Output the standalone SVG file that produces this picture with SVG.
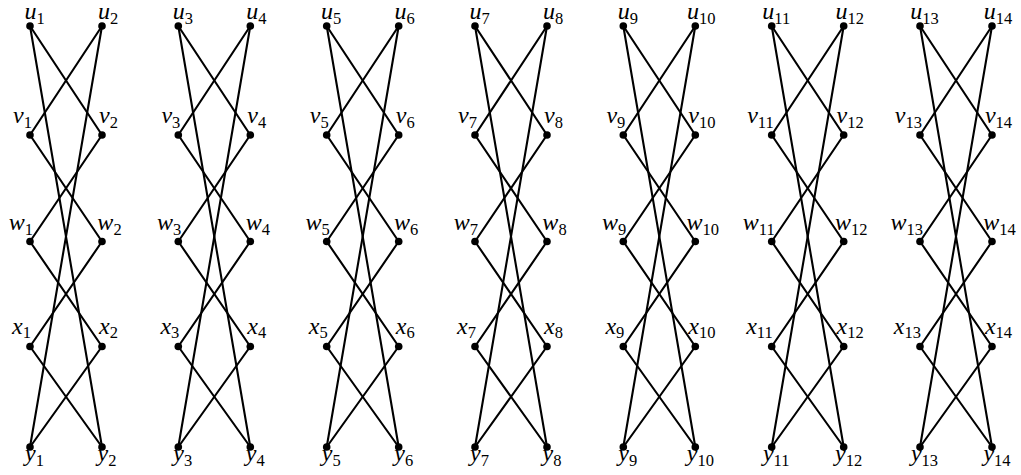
<svg xmlns="http://www.w3.org/2000/svg" width="1021" height="475" viewBox="0 0 1021 475">
<style>
.e{stroke:#000;stroke-width:2.1;fill:none;stroke-linecap:round}
.d{fill:#000}
.t{font-family:"Liberation Serif","DejaVu Serif",serif;font-size:24px;font-style:italic;fill:#000}
.s{font-size:16.5px;font-style:normal}
.m{text-anchor:middle}
.r{text-anchor:end}
</style>
<rect width="1021" height="475" fill="#fff"/>
<g id="connectors">
<line class="e" x1="30" y1="26" x2="102" y2="447"/><line class="e" x1="102" y1="26" x2="30" y2="447"/><line class="e" x1="30" y1="26" x2="102" y2="135"/><line class="e" x1="102" y1="26" x2="30" y2="135"/><line class="e" x1="30" y1="135" x2="102" y2="241.5"/><line class="e" x1="102" y1="135" x2="30" y2="241.5"/><line class="e" x1="30" y1="241.5" x2="102" y2="346.5"/><line class="e" x1="102" y1="241.5" x2="30" y2="346.5"/><line class="e" x1="30" y1="346.5" x2="102" y2="447"/><line class="e" x1="102" y1="346.5" x2="30" y2="447"/>
<line class="e" x1="178.3" y1="26" x2="250.3" y2="447"/><line class="e" x1="250.3" y1="26" x2="178.3" y2="447"/><line class="e" x1="178.3" y1="26" x2="250.3" y2="135"/><line class="e" x1="250.3" y1="26" x2="178.3" y2="135"/><line class="e" x1="178.3" y1="135" x2="250.3" y2="241.5"/><line class="e" x1="250.3" y1="135" x2="178.3" y2="241.5"/><line class="e" x1="178.3" y1="241.5" x2="250.3" y2="346.5"/><line class="e" x1="250.3" y1="241.5" x2="178.3" y2="346.5"/><line class="e" x1="178.3" y1="346.5" x2="250.3" y2="447"/><line class="e" x1="250.3" y1="346.5" x2="178.3" y2="447"/>
<line class="e" x1="326.7" y1="26" x2="398.7" y2="447"/><line class="e" x1="398.7" y1="26" x2="326.7" y2="447"/><line class="e" x1="326.7" y1="26" x2="398.7" y2="135"/><line class="e" x1="398.7" y1="26" x2="326.7" y2="135"/><line class="e" x1="326.7" y1="135" x2="398.7" y2="241.5"/><line class="e" x1="398.7" y1="135" x2="326.7" y2="241.5"/><line class="e" x1="326.7" y1="241.5" x2="398.7" y2="346.5"/><line class="e" x1="398.7" y1="241.5" x2="326.7" y2="346.5"/><line class="e" x1="326.7" y1="346.5" x2="398.7" y2="447"/><line class="e" x1="398.7" y1="346.5" x2="326.7" y2="447"/>
<line class="e" x1="475" y1="26" x2="547" y2="447"/><line class="e" x1="547" y1="26" x2="475" y2="447"/><line class="e" x1="475" y1="26" x2="547" y2="135"/><line class="e" x1="547" y1="26" x2="475" y2="135"/><line class="e" x1="475" y1="135" x2="547" y2="241.5"/><line class="e" x1="547" y1="135" x2="475" y2="241.5"/><line class="e" x1="475" y1="241.5" x2="547" y2="346.5"/><line class="e" x1="547" y1="241.5" x2="475" y2="346.5"/><line class="e" x1="475" y1="346.5" x2="547" y2="447"/><line class="e" x1="547" y1="346.5" x2="475" y2="447"/>
<line class="e" x1="623.3" y1="26" x2="695.3" y2="447"/><line class="e" x1="695.3" y1="26" x2="623.3" y2="447"/><line class="e" x1="623.3" y1="26" x2="695.3" y2="135"/><line class="e" x1="695.3" y1="26" x2="623.3" y2="135"/><line class="e" x1="623.3" y1="135" x2="695.3" y2="241.5"/><line class="e" x1="695.3" y1="135" x2="623.3" y2="241.5"/><line class="e" x1="623.3" y1="241.5" x2="695.3" y2="346.5"/><line class="e" x1="695.3" y1="241.5" x2="623.3" y2="346.5"/><line class="e" x1="623.3" y1="346.5" x2="695.3" y2="447"/><line class="e" x1="695.3" y1="346.5" x2="623.3" y2="447"/>
<line class="e" x1="771.7" y1="26" x2="843.7" y2="447"/><line class="e" x1="843.7" y1="26" x2="771.7" y2="447"/><line class="e" x1="771.7" y1="26" x2="843.7" y2="135"/><line class="e" x1="843.7" y1="26" x2="771.7" y2="135"/><line class="e" x1="771.7" y1="135" x2="843.7" y2="241.5"/><line class="e" x1="843.7" y1="135" x2="771.7" y2="241.5"/><line class="e" x1="771.7" y1="241.5" x2="843.7" y2="346.5"/><line class="e" x1="843.7" y1="241.5" x2="771.7" y2="346.5"/><line class="e" x1="771.7" y1="346.5" x2="843.7" y2="447"/><line class="e" x1="843.7" y1="346.5" x2="771.7" y2="447"/>
<line class="e" x1="920" y1="26" x2="992" y2="447"/><line class="e" x1="992" y1="26" x2="920" y2="447"/><line class="e" x1="920" y1="26" x2="992" y2="135"/><line class="e" x1="992" y1="26" x2="920" y2="135"/><line class="e" x1="920" y1="135" x2="992" y2="241.5"/><line class="e" x1="992" y1="135" x2="920" y2="241.5"/><line class="e" x1="920" y1="241.5" x2="992" y2="346.5"/><line class="e" x1="992" y1="241.5" x2="920" y2="346.5"/><line class="e" x1="920" y1="346.5" x2="992" y2="447"/><line class="e" x1="992" y1="346.5" x2="920" y2="447"/>
</g>
<g id="nodes">
<g id="u1"><circle class="d" cx="30" cy="26" r="3.8"/><text class="t m" x="34.5" y="19">u<tspan class="s" dy="4.5">1</tspan></text></g>
<g id="u2"><circle class="d" cx="102" cy="26" r="3.8"/><text class="t m" x="108" y="19">u<tspan class="s" dy="4.5">2</tspan></text></g>
<g id="v1"><circle class="d" cx="30" cy="135" r="3.8"/><text class="t r" x="32" y="123">v<tspan class="s" dy="4.5">1</tspan></text></g>
<g id="v2"><circle class="d" cx="102" cy="135" r="3.8"/><text class="t m" x="108.5" y="123">v<tspan class="s" dy="4.5">2</tspan></text></g>
<g id="w1"><circle class="d" cx="30" cy="241.5" r="3.8"/><text class="t r" x="33" y="230">w<tspan class="s" dy="4.5">1</tspan></text></g>
<g id="w2"><circle class="d" cx="102" cy="241.5" r="3.8"/><text class="t m" x="109.5" y="230">w<tspan class="s" dy="4.5">2</tspan></text></g>
<g id="x1"><circle class="d" cx="30" cy="346.5" r="3.8"/><text class="t r" x="31" y="333.5">x<tspan class="s" dy="4.5">1</tspan></text></g>
<g id="x2"><circle class="d" cx="102" cy="346.5" r="3.8"/><text class="t m" x="108.5" y="333.5">x<tspan class="s" dy="4.5">2</tspan></text></g>
<g id="y1"><circle class="d" cx="30" cy="447" r="3.8"/><text class="t m" x="34.5" y="461">y<tspan class="s" dy="4.5">1</tspan></text></g>
<g id="y2"><circle class="d" cx="102" cy="447" r="3.8"/><text class="t m" x="107" y="461">y<tspan class="s" dy="4.5">2</tspan></text></g>

<g id="u3"><circle class="d" cx="178.3" cy="26" r="3.8"/><text class="t m" x="182.8" y="19">u<tspan class="s" dy="4.5">3</tspan></text></g>
<g id="u4"><circle class="d" cx="250.3" cy="26" r="3.8"/><text class="t m" x="256.3" y="19">u<tspan class="s" dy="4.5">4</tspan></text></g>
<g id="v3"><circle class="d" cx="178.3" cy="135" r="3.8"/><text class="t r" x="180.3" y="123">v<tspan class="s" dy="4.5">3</tspan></text></g>
<g id="v4"><circle class="d" cx="250.3" cy="135" r="3.8"/><text class="t m" x="256.8" y="123">v<tspan class="s" dy="4.5">4</tspan></text></g>
<g id="w3"><circle class="d" cx="178.3" cy="241.5" r="3.8"/><text class="t r" x="181.3" y="230">w<tspan class="s" dy="4.5">3</tspan></text></g>
<g id="w4"><circle class="d" cx="250.3" cy="241.5" r="3.8"/><text class="t m" x="257.8" y="230">w<tspan class="s" dy="4.5">4</tspan></text></g>
<g id="x3"><circle class="d" cx="178.3" cy="346.5" r="3.8"/><text class="t r" x="179.3" y="333.5">x<tspan class="s" dy="4.5">3</tspan></text></g>
<g id="x4"><circle class="d" cx="250.3" cy="346.5" r="3.8"/><text class="t m" x="256.8" y="333.5">x<tspan class="s" dy="4.5">4</tspan></text></g>
<g id="y3"><circle class="d" cx="178.3" cy="447" r="3.8"/><text class="t m" x="182.8" y="461">y<tspan class="s" dy="4.5">3</tspan></text></g>
<g id="y4"><circle class="d" cx="250.3" cy="447" r="3.8"/><text class="t m" x="255.3" y="461">y<tspan class="s" dy="4.5">4</tspan></text></g>

<g id="u5"><circle class="d" cx="326.7" cy="26" r="3.8"/><text class="t m" x="331.2" y="19">u<tspan class="s" dy="4.5">5</tspan></text></g>
<g id="u6"><circle class="d" cx="398.7" cy="26" r="3.8"/><text class="t m" x="404.7" y="19">u<tspan class="s" dy="4.5">6</tspan></text></g>
<g id="v5"><circle class="d" cx="326.7" cy="135" r="3.8"/><text class="t r" x="328.7" y="123">v<tspan class="s" dy="4.5">5</tspan></text></g>
<g id="v6"><circle class="d" cx="398.7" cy="135" r="3.8"/><text class="t m" x="405.2" y="123">v<tspan class="s" dy="4.5">6</tspan></text></g>
<g id="w5"><circle class="d" cx="326.7" cy="241.5" r="3.8"/><text class="t r" x="329.7" y="230">w<tspan class="s" dy="4.5">5</tspan></text></g>
<g id="w6"><circle class="d" cx="398.7" cy="241.5" r="3.8"/><text class="t m" x="406.2" y="230">w<tspan class="s" dy="4.5">6</tspan></text></g>
<g id="x5"><circle class="d" cx="326.7" cy="346.5" r="3.8"/><text class="t r" x="327.7" y="333.5">x<tspan class="s" dy="4.5">5</tspan></text></g>
<g id="x6"><circle class="d" cx="398.7" cy="346.5" r="3.8"/><text class="t m" x="405.2" y="333.5">x<tspan class="s" dy="4.5">6</tspan></text></g>
<g id="y5"><circle class="d" cx="326.7" cy="447" r="3.8"/><text class="t m" x="331.2" y="461">y<tspan class="s" dy="4.5">5</tspan></text></g>
<g id="y6"><circle class="d" cx="398.7" cy="447" r="3.8"/><text class="t m" x="403.7" y="461">y<tspan class="s" dy="4.5">6</tspan></text></g>

<g id="u7"><circle class="d" cx="475" cy="26" r="3.8"/><text class="t m" x="479.5" y="19">u<tspan class="s" dy="4.5">7</tspan></text></g>
<g id="u8"><circle class="d" cx="547" cy="26" r="3.8"/><text class="t m" x="553" y="19">u<tspan class="s" dy="4.5">8</tspan></text></g>
<g id="v7"><circle class="d" cx="475" cy="135" r="3.8"/><text class="t r" x="477" y="123">v<tspan class="s" dy="4.5">7</tspan></text></g>
<g id="v8"><circle class="d" cx="547" cy="135" r="3.8"/><text class="t m" x="553.5" y="123">v<tspan class="s" dy="4.5">8</tspan></text></g>
<g id="w7"><circle class="d" cx="475" cy="241.5" r="3.8"/><text class="t r" x="478" y="230">w<tspan class="s" dy="4.5">7</tspan></text></g>
<g id="w8"><circle class="d" cx="547" cy="241.5" r="3.8"/><text class="t m" x="554.5" y="230">w<tspan class="s" dy="4.5">8</tspan></text></g>
<g id="x7"><circle class="d" cx="475" cy="346.5" r="3.8"/><text class="t r" x="476" y="333.5">x<tspan class="s" dy="4.5">7</tspan></text></g>
<g id="x8"><circle class="d" cx="547" cy="346.5" r="3.8"/><text class="t m" x="553.5" y="333.5">x<tspan class="s" dy="4.5">8</tspan></text></g>
<g id="y7"><circle class="d" cx="475" cy="447" r="3.8"/><text class="t m" x="479.5" y="461">y<tspan class="s" dy="4.5">7</tspan></text></g>
<g id="y8"><circle class="d" cx="547" cy="447" r="3.8"/><text class="t m" x="552" y="461">y<tspan class="s" dy="4.5">8</tspan></text></g>

<g id="u9"><circle class="d" cx="623.3" cy="26" r="3.8"/><text class="t m" x="627.8" y="19">u<tspan class="s" dy="4.5">9</tspan></text></g>
<g id="u10"><circle class="d" cx="695.3" cy="26" r="3.8"/><text class="t m" x="701.3" y="19">u<tspan class="s" dy="4.5">10</tspan></text></g>
<g id="v9"><circle class="d" cx="623.3" cy="135" r="3.8"/><text class="t r" x="625.3" y="123">v<tspan class="s" dy="4.5">9</tspan></text></g>
<g id="v10"><circle class="d" cx="695.3" cy="135" r="3.8"/><text class="t m" x="701.8" y="123">v<tspan class="s" dy="4.5">10</tspan></text></g>
<g id="w9"><circle class="d" cx="623.3" cy="241.5" r="3.8"/><text class="t r" x="626.3" y="230">w<tspan class="s" dy="4.5">9</tspan></text></g>
<g id="w10"><circle class="d" cx="695.3" cy="241.5" r="3.8"/><text class="t m" x="702.8" y="230">w<tspan class="s" dy="4.5">10</tspan></text></g>
<g id="x9"><circle class="d" cx="623.3" cy="346.5" r="3.8"/><text class="t r" x="624.3" y="333.5">x<tspan class="s" dy="4.5">9</tspan></text></g>
<g id="x10"><circle class="d" cx="695.3" cy="346.5" r="3.8"/><text class="t m" x="701.8" y="333.5">x<tspan class="s" dy="4.5">10</tspan></text></g>
<g id="y9"><circle class="d" cx="623.3" cy="447" r="3.8"/><text class="t m" x="627.8" y="461">y<tspan class="s" dy="4.5">9</tspan></text></g>
<g id="y10"><circle class="d" cx="695.3" cy="447" r="3.8"/><text class="t m" x="700.3" y="461">y<tspan class="s" dy="4.5">10</tspan></text></g>

<g id="u11"><circle class="d" cx="771.7" cy="26" r="3.8"/><text class="t m" x="776.2" y="19">u<tspan class="s" dy="4.5">11</tspan></text></g>
<g id="u12"><circle class="d" cx="843.7" cy="26" r="3.8"/><text class="t m" x="849.7" y="19">u<tspan class="s" dy="4.5">12</tspan></text></g>
<g id="v11"><circle class="d" cx="771.7" cy="135" r="3.8"/><text class="t r" x="773.7" y="123">v<tspan class="s" dy="4.5">11</tspan></text></g>
<g id="v12"><circle class="d" cx="843.7" cy="135" r="3.8"/><text class="t m" x="850.2" y="123">v<tspan class="s" dy="4.5">12</tspan></text></g>
<g id="w11"><circle class="d" cx="771.7" cy="241.5" r="3.8"/><text class="t r" x="774.7" y="230">w<tspan class="s" dy="4.5">11</tspan></text></g>
<g id="w12"><circle class="d" cx="843.7" cy="241.5" r="3.8"/><text class="t m" x="851.2" y="230">w<tspan class="s" dy="4.5">12</tspan></text></g>
<g id="x11"><circle class="d" cx="771.7" cy="346.5" r="3.8"/><text class="t r" x="772.7" y="333.5">x<tspan class="s" dy="4.5">11</tspan></text></g>
<g id="x12"><circle class="d" cx="843.7" cy="346.5" r="3.8"/><text class="t m" x="850.2" y="333.5">x<tspan class="s" dy="4.5">12</tspan></text></g>
<g id="y11"><circle class="d" cx="771.7" cy="447" r="3.8"/><text class="t m" x="776.2" y="461">y<tspan class="s" dy="4.5">11</tspan></text></g>
<g id="y12"><circle class="d" cx="843.7" cy="447" r="3.8"/><text class="t m" x="848.7" y="461">y<tspan class="s" dy="4.5">12</tspan></text></g>

<g id="u13"><circle class="d" cx="920" cy="26" r="3.8"/><text class="t m" x="924.5" y="19">u<tspan class="s" dy="4.5">13</tspan></text></g>
<g id="u14"><circle class="d" cx="992" cy="26" r="3.8"/><text class="t m" x="998" y="19">u<tspan class="s" dy="4.5">14</tspan></text></g>
<g id="v13"><circle class="d" cx="920" cy="135" r="3.8"/><text class="t r" x="922" y="123">v<tspan class="s" dy="4.5">13</tspan></text></g>
<g id="v14"><circle class="d" cx="992" cy="135" r="3.8"/><text class="t m" x="998.5" y="123">v<tspan class="s" dy="4.5">14</tspan></text></g>
<g id="w13"><circle class="d" cx="920" cy="241.5" r="3.8"/><text class="t r" x="923" y="230">w<tspan class="s" dy="4.5">13</tspan></text></g>
<g id="w14"><circle class="d" cx="992" cy="241.5" r="3.8"/><text class="t m" x="999.5" y="230">w<tspan class="s" dy="4.5">14</tspan></text></g>
<g id="x13"><circle class="d" cx="920" cy="346.5" r="3.8"/><text class="t r" x="921" y="333.5">x<tspan class="s" dy="4.5">13</tspan></text></g>
<g id="x14"><circle class="d" cx="992" cy="346.5" r="3.8"/><text class="t m" x="998.5" y="333.5">x<tspan class="s" dy="4.5">14</tspan></text></g>
<g id="y13"><circle class="d" cx="920" cy="447" r="3.8"/><text class="t m" x="924.5" y="461">y<tspan class="s" dy="4.5">13</tspan></text></g>
<g id="y14"><circle class="d" cx="992" cy="447" r="3.8"/><text class="t m" x="997" y="461">y<tspan class="s" dy="4.5">14</tspan></text></g>
</g>
</svg>
